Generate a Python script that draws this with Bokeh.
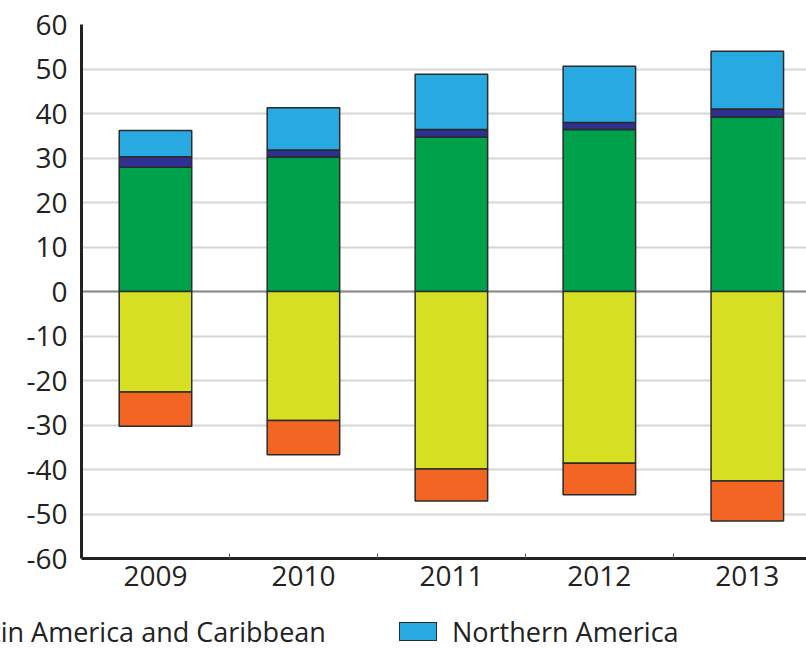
from bokeh.plotting import figure
from bokeh.models import (ColumnDataSource, Range1d, FixedTicker, Span, Div)
from bokeh.layouts import column
from bokeh.embed import file_html
from bokeh.resources import INLINE

years = ["2009", "2010", "2011", "2012", "2013"]
# positive stack
green_vals = [27.9, 30.2, 34.7, 36.4, 39.2]
navy_vals = [2.4, 1.6, 1.7, 1.6, 1.8]
blue_vals = [5.9, 9.5, 12.4, 12.6, 13.0]
# negative stack
yellow_vals = [-22.6, -29.0, -39.9, -38.6, -42.6]
orange_vals = [-7.7, -7.7, -7.2, -7.1, -9.0]

y_ticks = [-60, -50, -40, -30, -20, -10, 0, 10, 20, 30, 40, 50, 60]

labels = ["Latin America and Caribbean", "Northern America"]
colors_pos = ["#00A14B", "#2E3192", "#29A9E1"]
colors_neg = ["#D7DF23", "#F26522"]

FONT = "Open Sans"
TXT = "#222222"
FS = "28px"

xs = [i + 0.5 for i in range(len(years))]
bounds = [i for i in range(1, len(years))]

src = ColumnDataSource(dict(x=xs, green=green_vals, navy=navy_vals, blue=blue_vals,
                            yellow=yellow_vals, orange=orange_vals))

p = figure(width=806, height=605, output_backend="svg", toolbar_location=None,
           x_range=Range1d(0, 4.9), y_range=Range1d(-60, 60),
           min_border_left=81, min_border_right=0, min_border_top=24, min_border_bottom=47)
p.outline_line_color = None
p.background_fill_color = "white"
p.border_fill_color = "white"

zero = Span(location=0, dimension="width", line_color="#8a8a8a", line_width=2, level="underlay")
p.add_layout(zero)

pos = p.vbar_stack(["green", "navy", "blue"], x="x", width=0.49, source=src,
                   fill_color=colors_pos, line_color="#2b2b2b", line_width=1.5)
neg = p.vbar_stack(["yellow", "orange"], x="x", width=0.49, source=src,
                   fill_color=colors_neg, line_color="#2b2b2b", line_width=1.5)

# axes
p.yaxis.ticker = FixedTicker(ticks=y_ticks)
p.yaxis.major_label_overrides = {t: str(t) for t in y_ticks}
p.yaxis.major_tick_out = 0
p.yaxis.major_tick_in = 0
p.yaxis.minor_tick_out = 0
p.yaxis.minor_tick_in = 0
p.yaxis.axis_line_width = 3
p.yaxis.axis_line_color = "#222222"
p.yaxis.major_label_standoff = 14
p.yaxis.major_label_text_font = FONT
p.yaxis.major_label_text_font_size = FS
p.yaxis.major_label_text_color = TXT

p.xaxis.ticker = FixedTicker(ticks=xs, minor_ticks=bounds)
p.xaxis.major_label_overrides = {x: y for x, y in zip(xs, years)}
p.xaxis.major_tick_out = 0
p.xaxis.major_tick_in = 0
p.xaxis.minor_tick_out = 0
p.xaxis.minor_tick_in = 5
p.xaxis.minor_tick_line_color = "#555555"
p.xaxis.axis_line_width = 3
p.xaxis.axis_line_color = "#222222"
p.xaxis.major_label_standoff = 7
p.xaxis.major_label_text_font = FONT
p.xaxis.major_label_text_font_size = FS
p.xaxis.major_label_text_color = TXT

p.xgrid.grid_line_color = None
p.ygrid.ticker = FixedTicker(ticks=y_ticks)
p.ygrid.grid_line_color = "#d6d6d6"
p.ygrid.grid_line_width = 2

# legend strip (the reference image is cropped on the left)
legend_swatches = [colors_pos[1], colors_pos[2]]
swatch_left = [-90, 399]
label_left = [-38, 452]
parts = []
for lab, col, sx, lx in zip(labels, legend_swatches, swatch_left, label_left):
    parts.append(
        f'<div style="position:absolute;left:{sx}px;top:17px;width:38px;height:19px;'
        f'background:{col};border:1px solid #2b2b2b;"></div>'
        f'<div style="position:absolute;left:{lx}px;top:10px;white-space:nowrap;'
        f'font-family:\'{FONT}\';font-size:27px;line-height:34px;color:{TXT};">{lab}</div>'
    )
html = ('<div style="position:relative;width:806px;height:44px;overflow:hidden;background:white;">'
        + "".join(parts) + '</div>')
legend_div = Div(text=html, width=806, height=44, margin=0)

open("out.html", "w").write(file_html(column(p, legend_div, spacing=0), INLINE))
